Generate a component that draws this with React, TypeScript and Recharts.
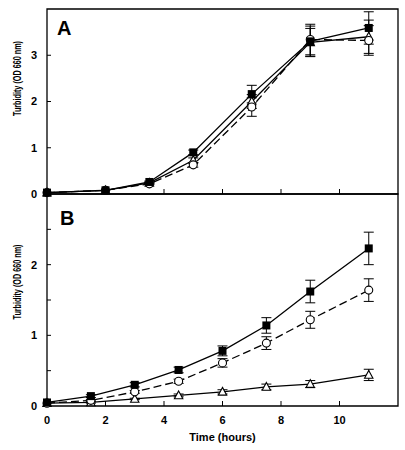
import React from "react";
import {
  LineChart,
  Line,
  XAxis,
  YAxis,
  ErrorBar,
  ReferenceArea,
} from "recharts";

// Panel A
const aHours = [0, 2, 3.5, 5, 7, 9, 11];
const aSquare = [0.03, 0.08, 0.26, 0.9, 2.16, 3.3, 3.59];
const aSquareErr = [0, 0, 0.02, 0.05, 0.19, 0.33, 0.35];
const aCircle = [0.03, 0.08, 0.22, 0.63, 1.88, 3.34, 3.32];
const aCircleErr = [0, 0, 0.02, 0.05, 0.2, 0.33, 0.32];
const aTriangle = [0.03, 0.08, 0.24, 0.73, 2.0, 3.28, 3.4];
const aTriangleErr = [0, 0, 0.02, 0.05, 0.15, 0.3, 0.36];

// Panel B
const bHours = [0, 1.5, 3, 4.5, 6, 7.5, 9, 11];
const bSquare = [0.05, 0.14, 0.3, 0.51, 0.78, 1.14, 1.62, 2.23];
const bSquareErr = [0, 0.02, 0.03, 0.04, 0.07, 0.11, 0.16, 0.23];
const bCircle = [0.04, 0.08, 0.2, 0.35, 0.61, 0.89, 1.22, 1.64];
const bCircleErr = [0, 0.01, 0.02, 0.03, 0.06, 0.09, 0.12, 0.16];
const bTriangle = [0.04, 0.05, 0.1, 0.15, 0.2, 0.27, 0.31, 0.44];
const bTriangleErr = [0, 0.01, 0.01, 0.02, 0.03, 0.04, 0.05, 0.08];

const xTicks = [0, 2, 4, 6, 8, 10];
const aYTicks = [0, 1, 2, 3];
const bYTicks = [0, 0.5, 1, 1.5, 2, 2.5];

const aData = aHours.map((h, i) => ({
  h,
  sq: aSquare[i],
  sqE: aSquareErr[i],
  ci: aCircle[i],
  ciE: aCircleErr[i],
  tr: aTriangle[i],
  trE: aTriangleErr[i],
}));

const bData = bHours.map((h, i) => ({
  h,
  sq: bSquare[i],
  sqE: bSquareErr[i],
  ci: bCircle[i],
  ciE: bCircleErr[i],
  tr: bTriangle[i],
  trE: bTriangleErr[i],
}));

const FONT = '"Liberation Sans", Arial, Helvetica, sans-serif';
const tickStyle = { fill: "#000", fontSize: 11, fontWeight: 700, fontFamily: FONT };

function SquareDot(p: any) {
  if (p.cx == null || p.cy == null) return null;
  return <rect key={p.key} x={p.cx - 4} y={p.cy - 4} width={8} height={8} fill="#000" />;
}

function CircleDot(p: any) {
  if (p.cx == null || p.cy == null) return null;
  return <circle key={p.key} cx={p.cx} cy={p.cy} r={4} fill="#fff" stroke="#000" strokeWidth={1.1} />;
}

function TriangleDot(p: any) {
  if (p.cx == null || p.cy == null) return null;
  const { cx, cy } = p;
  return (
    <path
      key={p.key}
      d={`M${cx},${cy - 4.5} L${cx + 4.2},${cy + 3.3} L${cx - 4.2},${cy + 3.3} Z`}
      fill="#fff"
      stroke="#000"
      strokeWidth={1.1}
    />
  );
}

function yLabel(shift: number) {
  return (props: any) => {
    const vb = props.viewBox;
    const cy = vb.y + vb.height / 2 - shift;
    return (
      <text
        x={17}
        y={cy}
        transform={`rotate(-90, 17, ${cy})`}
        textAnchor="middle"
        dominantBaseline="central"
        fontFamily={FONT}
        fontWeight={700}
        fontSize={11}
        textLength={75}
        lengthAdjust="spacingAndGlyphs"
        fill="#000"
      >
        Turbidity (OD 660 nm)
      </text>
    );
  };
}

function panelLetter(letter: string, dx: number, dy: number) {
  return (props: any) => {
    const vb = props.viewBox;
    return (
      <text
        x={vb.x + dx}
        y={vb.y + dy}
        fontFamily={FONT}
        fontWeight={700}
        fontSize={20}
        fill="#000"
      >
        {letter}
      </text>
    );
  };
}

function xLabel(props: any) {
  const vb = props.viewBox;
  return (
    <text
      x={vb.x + vb.width / 2}
      y={vb.y + 35}
      textAnchor="middle"
      fontFamily={FONT}
      fontWeight={700}
      fontSize={11}
      fill="#000"
    >
      Time (hours)
    </text>
  );
}

export default function App() {
  const lineProps = { isAnimationActive: false, stroke: "#000", strokeWidth: 1.3 };
  return (
    <div style={{ position: "absolute", left: 0, top: 0, width: 405, height: 450, background: "#fff" }}>
      {/* Panel A */}
      <div style={{ position: "absolute", left: 0, top: 0 }}>
        <LineChart width={405} height={210} data={aData} margin={{ top: 9, right: 7, left: 0, bottom: 14 }}>
          <XAxis
            dataKey="h"
            type="number"
            domain={[0, 12]}
            ticks={xTicks}
            height={2}
            axisLine={false}
            tickLine={{ stroke: "#000" }}
            tickSize={-5}
            tickFormatter={() => ""}
          />
          <YAxis
            type="number"
            domain={[0, 4]}
            ticks={aYTicks}
            width={47}
            axisLine={false}
            tickLine={{ stroke: "#000" }}
            tickSize={-4}
            tickMargin={14}
            tick={tickStyle}
            label={yLabel(23)}
          />
          <ReferenceArea
            x1={0}
            x2={12}
            y1={0}
            y2={4}
            fill="none"
            stroke="#000"
            strokeWidth={1.3}
            label={panelLetter("A", 10, 26)}
          />
          <Line dataKey="tr" {...lineProps} dot={TriangleDot}>
            <ErrorBar dataKey="trE" width={5} stroke="#000" strokeWidth={1} />
          </Line>
          <Line dataKey="ci" {...lineProps} strokeDasharray="8 4" dot={CircleDot}>
            <ErrorBar dataKey="ciE" width={5} stroke="#000" strokeWidth={1} />
          </Line>
          <Line dataKey="sq" {...lineProps} dot={SquareDot}>
            <ErrorBar dataKey="sqE" width={5} stroke="#000" strokeWidth={1} />
          </Line>
        </LineChart>
      </div>

      {/* Panel B */}
      <div style={{ position: "absolute", left: 0, top: 192 }}>
        <LineChart width={405} height={258} data={bData} margin={{ top: 2, right: 7, left: 0, bottom: 0 }}>
          <XAxis
            dataKey="h"
            type="number"
            domain={[0, 12]}
            ticks={xTicks}
            height={44}
            axisLine={false}
            tickLine={{ stroke: "#000" }}
            tickSize={-5}
            tickMargin={15}
            tick={tickStyle}
            label={xLabel}
          />
          <YAxis
            type="number"
            domain={[0, 3]}
            ticks={bYTicks}
            width={47}
            axisLine={false}
            tickLine={{ stroke: "#000" }}
            tickSize={-4}
            tickMargin={14}
            tick={tickStyle}
            tickFormatter={(v: number) => (Number.isInteger(v) ? String(v) : "")}
            label={yLabel(18)}
          />
          <ReferenceArea
            x1={0}
            x2={12}
            y1={0}
            y2={3}
            fill="none"
            stroke="#000"
            strokeWidth={1.3}
            label={panelLetter("B", 13, 31)}
          />
          <Line dataKey="tr" {...lineProps} dot={TriangleDot}>
            <ErrorBar dataKey="trE" width={5} stroke="#000" strokeWidth={1} />
          </Line>
          <Line dataKey="ci" {...lineProps} strokeDasharray="8 4" dot={CircleDot}>
            <ErrorBar dataKey="ciE" width={5} stroke="#000" strokeWidth={1} />
          </Line>
          <Line dataKey="sq" {...lineProps} dot={SquareDot}>
            <ErrorBar dataKey="sqE" width={5} stroke="#000" strokeWidth={1} />
          </Line>
        </LineChart>
      </div>
    </div>
  );
}
